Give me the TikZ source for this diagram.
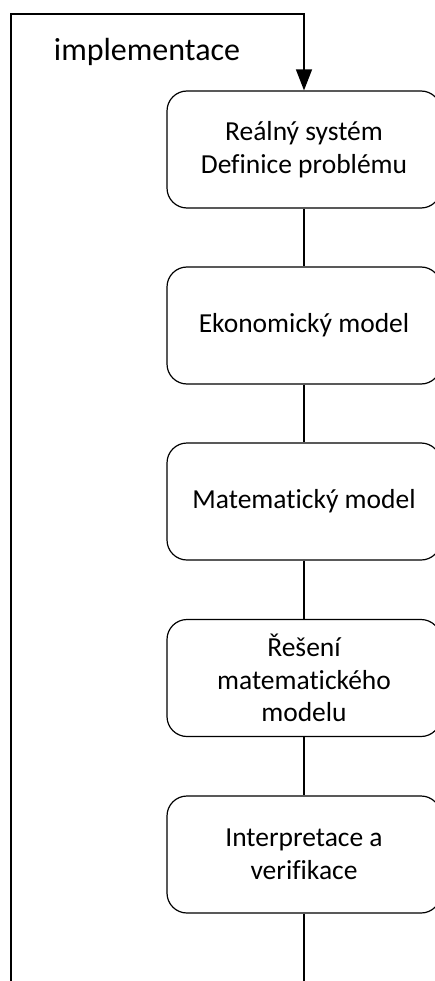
\documentclass[tikz,border=0pt]{standalone}
\usepackage{fontspec}
\setmainfont[Ligatures={NoCommon}]{Carlito}
\usetikzlibrary{arrows.meta}
\begin{document}
\begin{tikzpicture}[x=1pt,y=-1pt,
  box/.style={draw,line width=1.2pt,rounded corners=20pt,minimum width=274pt,minimum height=117pt,align=center,
    font=\fontsize{27.5}{32.5}\selectfont,inner sep=0pt},
  conn/.style={line width=1.3pt}]
\clip (0,0) rectangle (435,981);
\node[box] (b1) at (304,149.5) {Reálný systém\\Definice problému};
\node[box] (b2) at (304,325.5) {Ekonomický model};
\node[box] (b3) at (304,501.5) {Matematický model};
\node[box] (b4) at (304,678) {Řešení\\matematického\\modelu};
\node[box] (b5) at (304,854.5) {Interpretace a\\verifikace};
\coordinate (bot) at (304,990);
\coordinate (lb) at (11,990);
\coordinate (lt) at (11,14);
\coordinate (rt) at (304,14);
\node[font=\fontsize{32}{36}\selectfont,inner sep=0pt] (impl) at (147,52) {implementace};
\draw[conn] (b1) -- (b2);
\draw[conn] (b2) -- (b3);
\draw[conn] (b3) -- (b4);
\draw[conn] (b4) -- (b5);
\draw[conn] (b5) -- (bot);
\draw[conn,-{Triangle[length=21pt,width=16pt]}] (lb) -- (lt) -- (rt) -- (b1.north);
\end{tikzpicture}
\end{document}
